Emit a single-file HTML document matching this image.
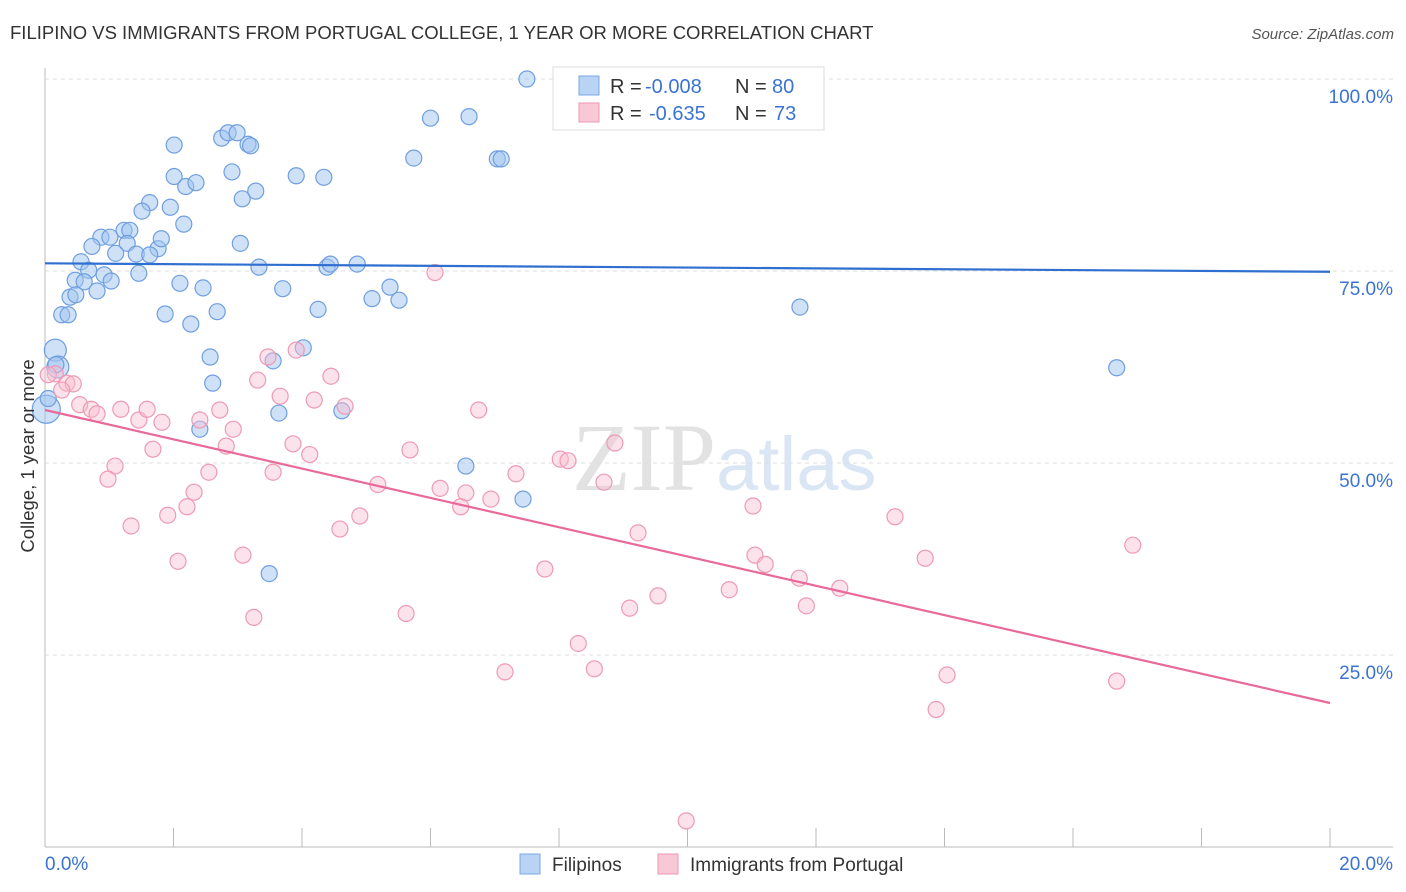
<!DOCTYPE html>
<html><head><meta charset="utf-8"><style>
body{margin:0;background:#fff;font-family:"Liberation Sans",sans-serif}
svg{display:block}
</style></head><body>
<svg id="c" width="1406" height="892" xmlns="http://www.w3.org/2000/svg">
<text x="10" y="39" font-size="18.5" fill="#333">FILIPINO VS IMMIGRANTS FROM PORTUGAL COLLEGE, 1 YEAR OR MORE CORRELATION CHART</text>
<text x="1394" y="39" font-size="15" fill="#555" text-anchor="end" font-style="italic">Source: ZipAtlas.com</text>
<text x="716" y="490" font-size="96" fill="#e2e2e2" text-anchor="end" font-family="Liberation Serif">ZIP</text>
<text x="716" y="490" font-size="76" fill="#dbe6f5">atlas</text>
<g id="grid"></g>
<g id="pts"></g>
<g id="lines"></g>
<text transform="translate(34,456) rotate(-90)" font-size="18.5" fill="#333" text-anchor="middle">College, 1 year or more</text>
<rect x="553" y="67" width="271" height="63" fill="#fff" stroke="#ddd"/>
<rect x="579" y="76" width="20" height="19" fill="#b9d3f5" stroke="#7aa7e6"/>
<rect x="579" y="103" width="20" height="19" fill="#f9c8d6" stroke="#ee97b2"/>
<g font-size="20">
<text x="610" y="93" fill="#333">R =</text><text x="645" y="93" fill="#3a73d2">-0.008</text>
<text x="735" y="93" fill="#333">N =</text><text x="772" y="93" fill="#3a73d2">80</text></g>
<g font-size="20">
<text x="610" y="120" fill="#333">R =</text><text x="649" y="120" fill="#3a73d2">-0.635</text>
<text x="735" y="120" fill="#333">N =</text><text x="774" y="120" fill="#3a73d2">73</text></g>
<rect x="520" y="854" width="20" height="20" fill="#b9d3f5" stroke="#7aa7e6"/>
<text x="552" y="871" font-size="19" fill="#333">Filipinos</text>
<rect x="658" y="854" width="20" height="20" fill="#f9c8d6" stroke="#ee97b2"/>
<text x="690" y="871" font-size="19" fill="#333">Immigrants from Portugal</text>
</svg>
<script>
const yTicks=[25,50,75,100];
const xTickLabels=["0.0%","20.0%"];
const blueX=[7.5,6.0,6.6,7.04,7.1,5.74,2.01,2.75,2.85,2.99,3.16,3.2,2.91,2.01,2.19,2.35,3.91,4.34,3.07,3.28,1.63,1.51,1.95,2.16,1.23,1.32,0.87,1.01,0.73,1.28,1.76,1.81,1.1,1.42,1.63,3.04,0.56,0.68,3.33,4.39,4.44,4.86,0.47,0.61,0.92,1.03,1.46,2.1,0.81,0.39,0.48,2.46,3.7,5.37,5.09,5.51,4.25,11.75,0.26,0.36,1.87,2.68,2.27,0.16,2.57,4.02,3.55,0.2,16.68,2.61,0.02,3.64,4.62,2.41,6.55,7.44,3.49,0.05,0.17];
const blueY=[100,94.9,95.1,89.6,89.6,89.7,91.4,92.3,93,93,91.5,91.3,87.9,87.3,86,86.5,87.4,87.2,84.4,85.4,83.9,82.8,83.3,81.1,80.3,80.3,79.4,79.4,78.2,78.6,77.9,79.2,77.3,77.2,77.1,78.6,76.2,75.1,75.5,75.5,75.9,75.9,73.8,73.6,74.5,73.7,74.7,73.4,72.4,71.6,71.9,72.8,72.7,72.9,71.4,71.2,70,70.3,69.3,69.3,69.4,69.7,68.1,64.7,63.8,65,63.3,62.5,62.4,60.4,57,56.5,56.8,54.4,49.6,45.3,35.6,58.4,62.8];
const blueR=[8,8,8,8,8,8,8,8,8,8,8,8,8,8,8,8,8,8,8,8,8,8,8,8,8,8,8,8,8,8,8,8,8,8,8,8,8,8,8,8,8,8,8,8,8,8,8,8,8,8,8,8,8,8,8,8,8,8,8,8,8,8,8,11,8,8,8,11,8,8,14,8,8,8,8,8,8,8,8];
const pinkX=[6.07,3.47,3.91,4.45,3.31,3.66,4.19,4.67,2.72,6.75,0.16,0.05,0.34,0.44,0.26,0.54,0.72,0.81,1.18,1.46,1.59,1.82,2.41,2.93,1.68,2.82,3.86,4.12,5.68,8.87,8.02,8.14,1.09,2.55,3.55,0.98,5.18,6.15,6.55,6.94,7.33,8.7,2.32,2.21,1.91,4.9,6.47,4.59,11.02,13.23,1.34,9.23,16.93,3.08,11.05,11.21,13.7,2.07,7.78,11.74,12.37,10.65,9.54,9.1,11.85,3.25,5.62,8.3,7.16,8.55,14.04,16.68,13.87,9.98];
const pinkY=[74.8,63.8,64.7,61.3,60.8,58.7,58.2,57.4,56.9,56.9,61.6,61.5,60.4,60.3,59.5,57.6,57.0,56.4,57.0,55.6,57.0,55.3,55.6,54.4,51.8,52.2,52.5,51.1,51.7,52.6,50.5,50.3,49.6,48.8,48.8,47.9,47.2,46.7,46.1,45.3,48.6,47.5,46.2,44.3,43.2,43.1,44.3,41.4,44.4,43.0,41.8,40.9,39.3,38.0,38.0,36.8,37.6,37.2,36.2,35.0,33.7,33.5,32.7,31.1,31.4,29.9,30.4,26.5,22.8,23.2,22.4,21.6,17.9,3.4];
const blueLine=[76.0,74.9];
const pinkLine=[56.9,18.75];
const X0=45,X1=1330,Y0=847,Y100=79;
const sx=v=>X0+(X1-X0)*v/20, sy=v=>Y0-(Y0-Y100)*v/100;
const NS="http://www.w3.org/2000/svg";
function mk(t,a,p){const e=document.createElementNS(NS,t);for(const k in a)e.setAttribute(k,a[k]);p.appendChild(e);return e;}
const grid=document.getElementById('grid');
const l1=mk('line',{x1:X0,x2:X0,y1:68,y2:847,stroke:'#bbb'},grid);


const l2=mk('line',{x1:X0,x2:1393,y1:847,y2:847,stroke:'#bbb'},grid);


yTicks.forEach(t=>{
 const g=mk('line',{x1:X0,x2:1393,y1:sy(t),y2:sy(t),stroke:'#ddd','stroke-dasharray':'4,4'},grid);
 
 
 const tx=mk('text',{x:1393,y:sy(t)+24,'font-size':19,fill:'#3a73d2','text-anchor':'end'},grid);
 tx.textContent=t.toFixed(1)+'%';
 
 
});
for(let i=0;i<=10;i++){
 const tk=mk('line',{x1:sx(i*2),x2:sx(i*2),y1:828,y2:847,stroke:'#bbb'},grid);
 
 
}
xTickLabels.forEach((s,i)=>{
 const tx=mk('text',{x:i?1393:45,y:870,'font-size':19,fill:'#3a73d2','text-anchor':i?'end':'start'},grid);
 tx.textContent=s;
 
 
});
const pts=document.getElementById('pts');
blueX.forEach((x,i)=>{
 const c=mk('circle',{cx:sx(x),cy:sy(blueY[i]),r:blueR[i],fill:'rgba(160,196,240,0.5)',stroke:'#6f9fe0','stroke-width':1.2},pts);
 
 
});
pinkX.forEach((x,i)=>{
 const c=mk('circle',{cx:sx(x),cy:sy(pinkY[i]),r:8,fill:'rgba(248,190,208,0.45)',stroke:'#ee9ab4','stroke-width':1.2},pts);
 
 
});
const lines=document.getElementById('lines');
const bl=mk('line',{x1:sx(0),x2:sx(20),y1:sy(blueLine[0]),y2:sy(blueLine[1]),stroke:'#2f6fd0','stroke-width':2.2},lines);


const pl=mk('line',{x1:sx(0),x2:sx(20),y1:sy(pinkLine[0]),y2:sy(pinkLine[1]),stroke:'#e8699a','stroke-width':2.2},lines);


</script>
</body></html>
